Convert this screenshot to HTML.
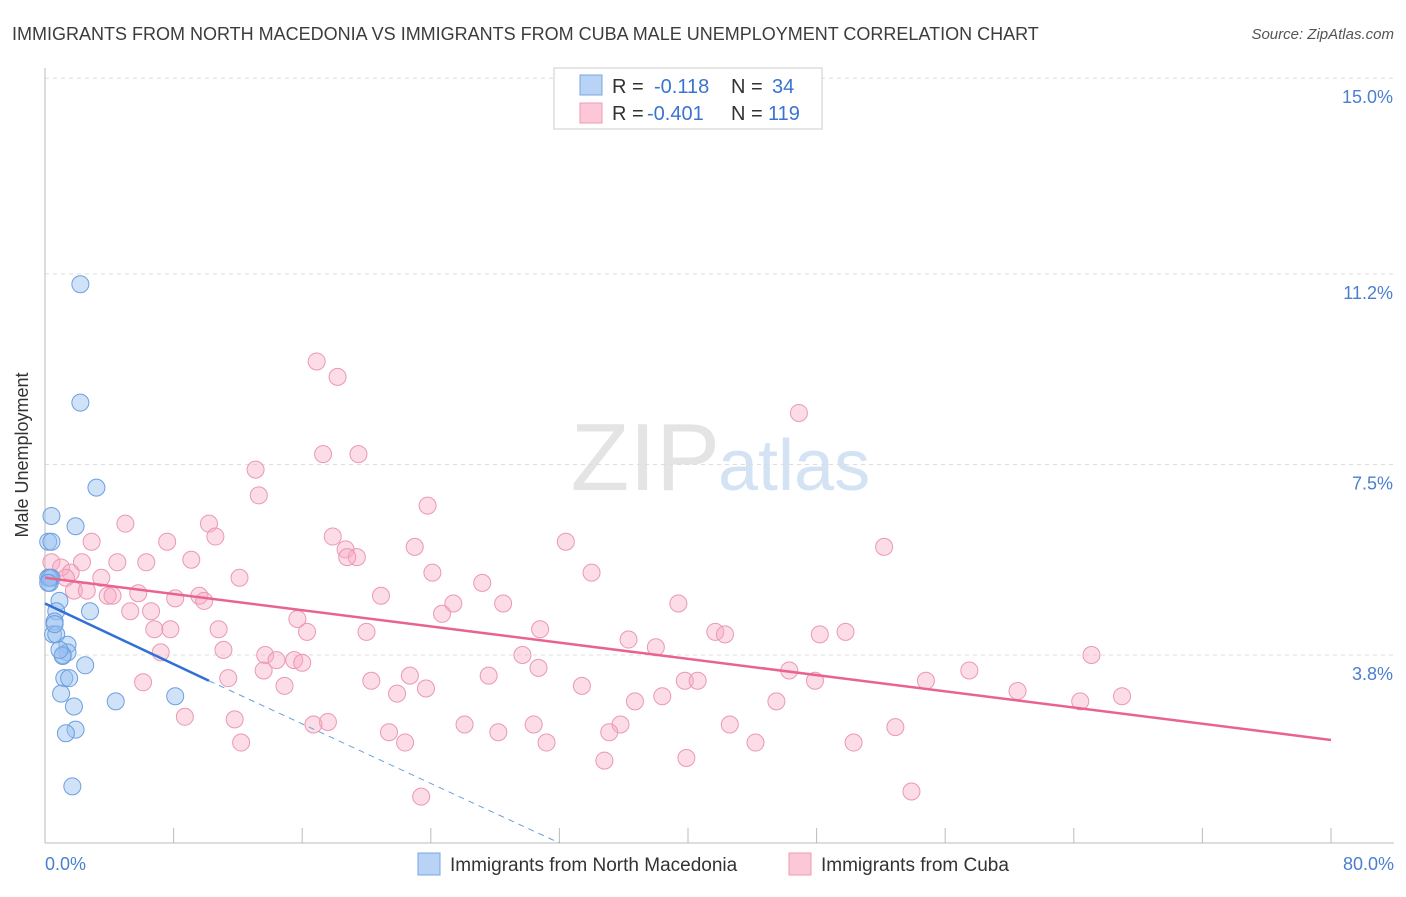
<!DOCTYPE html>
<html><head><meta charset="utf-8"><style>
body{margin:0;background:#fff;font-family:"Liberation Sans",sans-serif}
svg text{font-family:"Liberation Sans",sans-serif}
</style></head><body>
<svg id="chart" width="1406" height="892" xmlns="http://www.w3.org/2000/svg">
<text x="12" y="40" font-size="18" fill="#3c3c3c">IMMIGRANTS FROM NORTH MACEDONIA VS IMMIGRANTS FROM CUBA MALE UNEMPLOYMENT CORRELATION CHART</text>
<text x="1394" y="39" font-size="15" fill="#555" font-style="italic" text-anchor="end">Source: ZipAtlas.com</text>
<text x="720" y="490" font-size="96" fill="#e4e4e4" text-anchor="end" font-family="Liberation Serif">ZIP</text>
<text x="718" y="490" font-size="72" fill="#d4e3f4">atlas</text>
<g id="grid"></g>
<line x1="45" y1="68" x2="45" y2="843" stroke="#bbb"/>
<line x1="45" y1="843" x2="1394" y2="843" stroke="#bbb"/>
<g id="xticks"></g>
<text x="28" y="455" font-size="18" fill="#333" text-anchor="middle" transform="rotate(-90 28 455)">Male Unemployment</text>
<text x="45" y="870" font-size="18" fill="#4a7fd0">0.0%</text>
<text x="1394" y="870" font-size="18" fill="#4a7fd0" text-anchor="end">80.0%</text>
<g id="pink"></g><g id="blue"></g><g id="lines"></g>
<g>
<rect x="554" y="68" width="268" height="61" fill="#fff" stroke="#ccc"/>
<rect x="580" y="75" width="22" height="20" fill="#b8d3f5" stroke="#7aa7e0"/>
<rect x="580" y="103" width="22" height="20" fill="#fcc8d8" stroke="#ee9ab4"/>
<text x="612" y="93" font-size="20" fill="#333">R =</text><text x="654" y="93" font-size="20" fill="#3a74d0">-0.118</text>
<text x="731" y="93" font-size="20" fill="#333">N =</text><text x="772" y="93" font-size="20" fill="#3a74d0">34</text>
<text x="612" y="120" font-size="20" fill="#333">R =</text><text x="647" y="120" font-size="20" fill="#3a74d0">-0.401</text>
<text x="731" y="120" font-size="20" fill="#333">N =</text><text x="768" y="120" font-size="20" fill="#3a74d0">119</text>
</g>
<g>
<rect x="418" y="853" width="22" height="22" fill="#b8d3f5" stroke="#7aa7e0"/>
<text x="450" y="871" font-size="19" fill="#333">Immigrants from North Macedonia</text>
<rect x="789" y="853" width="22" height="22" fill="#fcc8d8" stroke="#ee9ab4"/>
<text x="821" y="871" font-size="19" fill="#333">Immigrants from Cuba</text>
</g>
</svg>
<script>
const yTicks=[15.0,11.2,7.5,3.8];
const yTickLabels=["15.0%","11.2%","7.5%","3.8%"];
const blueX=[2.2,2.2,3.2,0.4,1.9,0.2,0.4,0.2,0.3,0.4,0.9,0.7,2.8,0.6,0.5,0.7,1.4,1.4,1.1,1.1,2.5,1.2,1.5,1.0,4.4,8.1,1.8,1.9,1.3,1.7,0.3,0.6,0.9,0.2];
const blueY=[11.0,8.7,7.05,6.5,6.3,6.0,6.0,5.3,5.2,5.3,4.85,4.65,4.65,4.45,4.2,4.2,4.0,3.85,3.8,3.78,3.6,3.35,3.35,3.05,2.9,3.0,2.8,2.35,2.28,1.25,5.3,4.4,3.9,5.2];
const pinkX=[16.9,18.2,46.9,17.3,19.5,13.1,13.3,23.8,5.0,10.2,17.9,10.6,32.4,2.9,7.6,23.0,52.2,18.7,19.4,18.8,9.1,4.5,6.3,2.3,0.4,1.0,1.6,34.0,24.1,12.1,3.5,1.3,27.2,1.8,2.6,3.9,4.2,5.8,8.1,9.6,9.9,20.9,25.4,28.5,39.4,5.3,6.6,15.7,24.7,30.8,6.8,7.8,10.8,16.3,20.0,41.7,42.3,48.2,49.8,36.3,38.0,11.1,13.7,7.2,29.7,15.5,16.0,14.4,65.1,13.6,30.7,46.3,57.5,11.4,6.1,20.3,27.6,22.7,23.7,33.4,39.8,40.6,47.9,54.8,14.9,21.9,36.7,38.4,45.5,60.5,64.4,67.0,8.7,11.8,17.6,16.7,26.1,30.4,35.8,42.6,21.4,28.2,35.1,52.9,12.2,22.4,31.2,44.2,50.3,39.9,34.8,23.4,53.9];
const pinkY=[9.5,9.2,8.5,7.7,7.7,7.4,6.9,6.7,6.35,6.35,6.1,6.1,6.0,6.0,6.0,5.9,5.9,5.85,5.7,5.7,5.65,5.6,5.6,5.6,5.6,5.5,5.4,5.4,5.4,5.3,5.3,5.3,5.2,5.05,5.05,4.95,4.95,5.0,4.9,4.95,4.85,4.95,4.8,4.8,4.8,4.65,4.65,4.5,4.6,4.3,4.3,4.3,4.3,4.25,4.25,4.25,4.2,4.2,4.25,4.1,3.95,3.9,3.8,3.85,3.8,3.7,3.65,3.7,3.8,3.5,3.55,3.5,3.5,3.35,3.27,3.3,3.4,3.4,3.15,3.2,3.3,3.3,3.3,3.3,3.2,3.05,2.9,3.0,2.9,3.1,2.9,3.0,2.6,2.55,2.5,2.45,2.45,2.45,2.45,2.45,2.3,2.3,2.3,2.4,2.1,2.1,2.1,2.1,2.1,1.8,1.75,1.05,1.15];
const pinkFit=[5.3,2.15];
const blueFit=[4.8,3.3,0.15];
const xs=v=>45+v*16.075, ys=v=>655-(v-3.8)*51.5;
const NS="http://www.w3.org/2000/svg";
function mk(p,t,a){const e=document.createElementNS(NS,t);for(const k in a)e.setAttribute(k,a[k]);document.getElementById(p).appendChild(e);return e;}
yTicks.forEach((v,i)=>{
 const l=mk('grid','line',{x1:45,x2:1394,y1:ys(v),y2:ys(v),stroke:'#ddd','stroke-dasharray':'4,4'});
 
 
 const t=mk('grid','text',{x:1393,y:ys(v)+25,'font-size':18,fill:'#4a7fd0','text-anchor':'end'});
 t.textContent=yTickLabels[i];
 
 
});
for(let i=1;i<=10;i++){const x=xs(i*8);
 const l=mk('xticks','line',{x1:x,x2:x,y1:828,y2:843,stroke:'#bbb'});
 
 }
pinkX.forEach((v,i)=>{
 const c=mk('pink','circle',{cx:xs(v),cy:ys(pinkY[i]),r:8.5,fill:'rgba(248,170,195,0.4)',stroke:'#eb98b2','stroke-width':1});
 
 
});
blueX.forEach((v,i)=>{
 const c=mk('blue','circle',{cx:xs(v),cy:ys(blueY[i]),r:8.5,fill:'rgba(150,190,240,0.45)',stroke:'#6c9fe0','stroke-width':1});
 
 
});
let l=mk('lines','line',{x1:xs(0),y1:ys(pinkFit[0]),x2:xs(80),y2:ys(pinkFit[1]),stroke:'#e8648f','stroke-width':2.5});


l=mk('lines','line',{x1:xs(0),y1:ys(blueFit[0]),x2:xs(10.2),y2:ys(blueFit[1]),stroke:'#2f6fd6','stroke-width':2.5});


l=mk('lines','line',{x1:xs(10.2),y1:ys(blueFit[1]),x2:xs(32),y2:ys(blueFit[2]),stroke:'#6c9fe0','stroke-width':1,'stroke-dasharray':'6,5'});


</script>
</body></html>
